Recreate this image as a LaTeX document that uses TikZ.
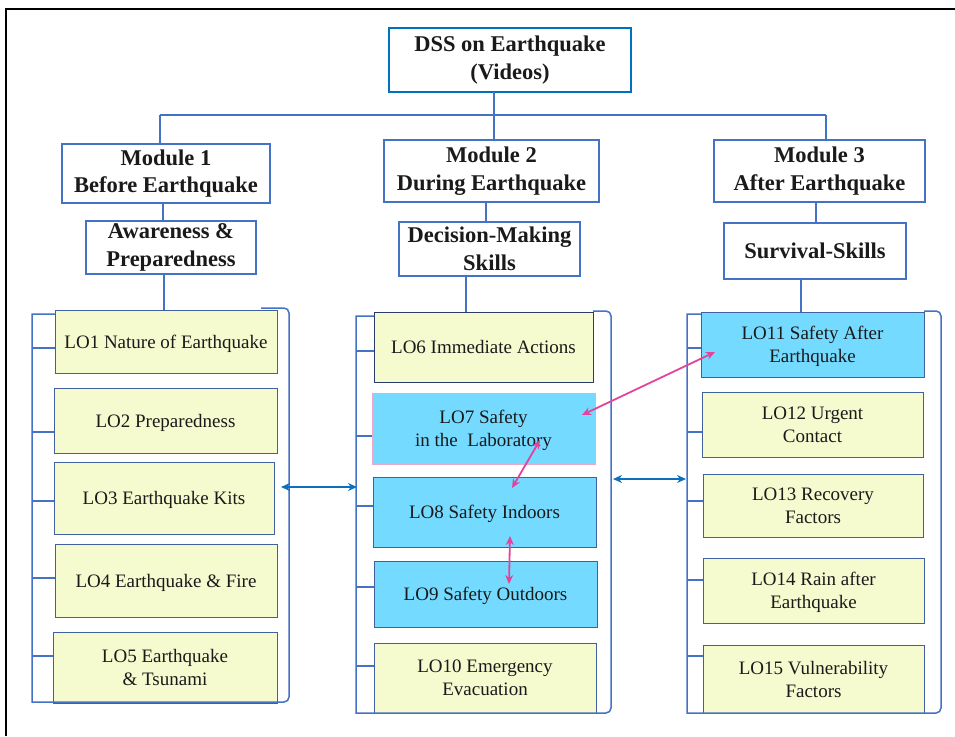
\documentclass[tikz,border=0pt]{standalone}
\usepackage{fontspec}
\setmainfont{Liberation Serif}
\usetikzlibrary{arrows.meta}
\definecolor{lineblue}{HTML}{4472C4}
\definecolor{topblue}{HTML}{0070C0}
\definecolor{arrowblue}{HTML}{0E6FBF}
\definecolor{pinkarrow}{HTML}{E2449C}
\definecolor{pale}{HTML}{F5FACF}
\definecolor{sky}{HTML}{75DAFF}
\definecolor{boxedge}{HTML}{41609E}
\definecolor{pinkedge}{HTML}{E8A9CB}
\definecolor{navyedge}{HTML}{2A3A6A}
\definecolor{ink}{HTML}{1A1A1A}

\begin{document}
\begin{tikzpicture}[x=1pt,y=-1pt,
  lo/.style={draw=boxedge, line width=0.9pt, fill=pale, inner sep=0pt, outer sep=0pt,
    align=center, text=ink, font=\fontsize{19}{23}\selectfont, text depth=0pt},
  lohi/.style={lo, fill=sky},
  head/.style={draw=lineblue, line width=2.2pt, fill=white, inner sep=0pt, outer sep=0pt,
    align=center, text=ink, font=\bfseries\fontsize{22.5}{27.5}\selectfont},
  bracket/.style={draw=lineblue, line width=1.5pt},
  link/.style={draw=lineblue, line width=1.6pt},
  bluearrow/.style={draw=arrowblue, line width=2pt,
    {Stealth[length=9pt,width=8pt]}-{Stealth[length=9pt,width=8pt]}},
  pinkarrowline/.style={draw=pinkarrow, line width=1.8pt,
    {Stealth[length=9pt,width=8pt]}-{Stealth[length=9pt,width=8pt]}}
]
\useasboundingbox (0,0) rectangle (955,736);

% outer frame
\draw[line width=2.6pt, black] (6,736) -- (6,9) -- (955,9);

% title and modules
\node[head, draw=topblue, line width=2.8pt, minimum width=242pt, minimum height=64pt] (top) at (510,60)
  {DSS on Earthquake\\(Videos)};
\node[head, minimum width=208pt, minimum height=59pt] (m1) at (166,173.5) {Module 1\\Before Earthquake};
\node[head, minimum width=215pt, minimum height=62pt] (m2) at (491.5,171) {Module 2\\During Earthquake};
\node[head, minimum width=211pt, minimum height=62pt] (m3) at (819.5,171) {Module 3\\After Earthquake};

\node[head, minimum width=170pt, minimum height=53pt] (s1) at (171,247.5) {Awareness \&\\Preparedness};
\node[head, minimum width=181pt, minimum height=54pt] (s2) at (489.5,249) {Decision-Making\\Skills};
\node[head, minimum width=182pt, minimum height=56pt] (s3) at (815,251) {Survival-Skills};

% learning outcomes, module 1
\node[lo, minimum width=222pt, minimum height=63pt] (lo1) at (166,341.5) {LO1 Nature of Earthquake};
\node[lo, minimum width=223pt, minimum height=65pt] (lo2) at (165.5,420.5) {LO2 Preparedness};
\node[lo, minimum width=220pt, minimum height=72pt] (lo3) at (164,498) {LO3 Earthquake Kits};
\node[lo, minimum width=222pt, minimum height=73pt] (lo4) at (166,580.5) {LO4 Earthquake \& Fire};
\node[lo, minimum width=224pt, minimum height=71pt] (lo5) at (165,667.5) {LO5 Earthquake\\\& Tsunami};

% learning outcomes, module 2
\node[lo, draw=navyedge, minimum width=219pt, minimum height=70pt] (lo6) at (483.5,347) {LO6 Immediate Actions};
\node[lohi, draw=pinkedge, minimum width=223pt, minimum height=71pt] (lo7) at (483.5,428.5) {LO7 Safety\\in the~ Laboratory};
\node[lohi, minimum width=223pt, minimum height=70pt] (lo8) at (484.5,512) {LO8 Safety Indoors};
\node[lohi, minimum width=223pt, minimum height=66pt] (lo9) at (485.5,594) {LO9 Safety Outdoors};
\node[lo, minimum width=222pt, minimum height=70pt] (lo10) at (485,678) {LO10 Emergency\\Evacuation};

% learning outcomes, module 3
\node[lohi, minimum width=223pt, minimum height=65pt] (lo11) at (812.5,344.5) {LO11 Safety After\\Earthquake};
\node[lo, minimum width=221pt, minimum height=65pt] (lo12) at (812.5,424.5) {LO12 Urgent\\Contact};
\node[lo, minimum width=220pt, minimum height=63pt] (lo13) at (813,505.5) {LO13 Recovery\\Factors};
\node[lo, minimum width=221pt, minimum height=65pt] (lo14) at (813.5,590.5) {LO14 Rain after\\Earthquake};
\node[lo, minimum width=221pt, minimum height=68pt] (lo15) at (813.5,679) {LO15 Vulnerability\\Factors};

% tree connectors
\coordinate (busL) at (160,115);
\coordinate (busM) at (494,115);
\coordinate (busR) at (826,115);
\draw[link] (busL) -- (busR);
\draw[link] (top.south -| busM) -- (busM) -- (busM |- m2.north);
\draw[link] (busL) -- (busL |- m1.north);
\draw[link] (busR) -- (busR |- m3.north);

\coordinate (k1) at (163,0);
\coordinate (k2) at (486,0);
\coordinate (k3) at (816,0);
\draw[link] (m1.south -| k1) -- (s1.north -| k1);
\draw[link] (m2.south -| k2) -- (s2.north -| k2);
\draw[link] (m3.south -| k3) -- (s3.north -| k3);

\coordinate (d1) at (164,0);
\coordinate (d2) at (466,0);
\coordinate (d3) at (801,0);
\draw[link] (s1.south -| d1) -- (lo1.north -| d1);
\draw[link] (s2.south -| d2) -- (lo6.north -| d2);
\draw[link] (s3.south -| d3) -- (lo11.north -| d3);

% column brackets
\coordinate (bl1) at (32,0);
\coordinate (bl2) at (356,0);
\coordinate (bl3) at (687,0);
\draw[bracket] (55,314) -- (32,314) -- (32,702) [rounded corners=5pt] -- (289,702) -- (289,308) -- (261,308);
\draw[bracket] (374,316) -- (356,316) -- (356,713) [rounded corners=5pt] -- (611,713) -- (611,311) -- (593,311);
\draw[bracket] (701,314) -- (687,314) -- (687,713) [rounded corners=5pt] -- (941,713) -- (941,311) -- (924,311);

% ticks from each bracket to its boxes
\foreach \b/\s in {lo1/-6.5, lo2/-11.5, lo3/-3, lo4/2.5, lo5/11.5}
  \draw[bracket] ([yshift=\s pt]\b.west) -- ([yshift=\s pt]\b.west -| bl1);
\foreach \b/\s in {lo6/-4, lo7/-7.5, lo8/6, lo9/7, lo10/12}
  \draw[bracket] ([yshift=\s pt]\b.west) -- ([yshift=\s pt]\b.west -| bl2);
\foreach \b/\s in {lo11/-3.5, lo12/-7.5, lo13/4.5, lo14/10.5, lo15/23}
  \draw[bracket] ([yshift=\s pt]\b.west) -- ([yshift=\s pt]\b.west -| bl3);

% links between modules
\coordinate (a1) at (281,487);
\coordinate (a2) at (357,487);
\coordinate (a3) at (613,479);
\coordinate (a4) at (686,479);
\draw[bluearrow] (a1) -- (a2);
\draw[bluearrow] (a3) -- (a4);

% links between learning outcomes
\coordinate (p1) at (715,352);
\coordinate (p2) at (582,415);
\coordinate (p3) at (540,440);
\coordinate (p4) at (512,488);
\coordinate (p5) at (510,536);
\coordinate (p6) at (509,584);
\draw[pinkarrowline] (p1) -- (p2);
\draw[pinkarrowline] (p3) -- (p4);
\draw[pinkarrowline] (p5) -- (p6);
\end{tikzpicture}
\end{document}
